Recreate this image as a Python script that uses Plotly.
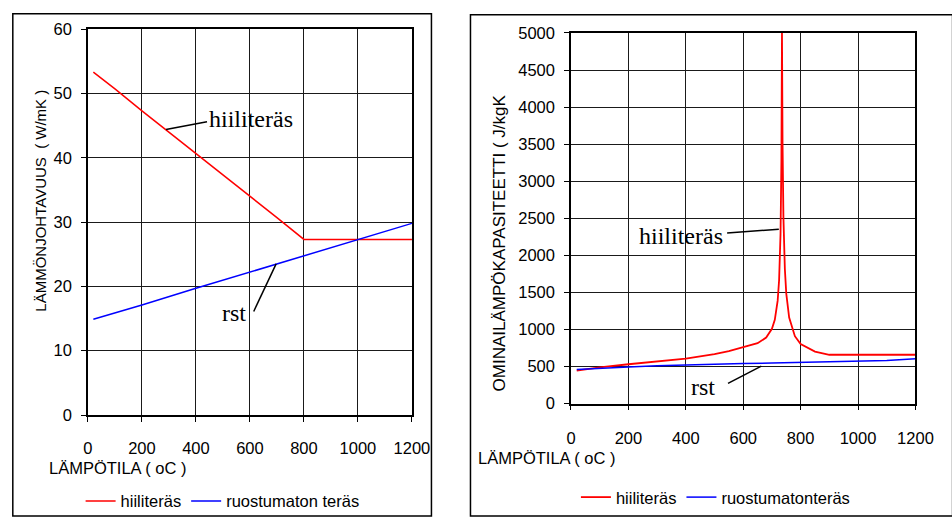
import plotly.graph_objects as go

# ---------------- data ----------------
# Left: thermal conductivity (W/mK)
k_temp_carbon = [20, 100, 200, 300, 400, 500, 600, 700, 800, 900, 1000, 1100, 1200]
k_carbon = [53.3, 50.7, 47.3, 44.0, 40.7, 37.4, 34.0, 30.7, 27.3, 27.3, 27.3, 27.3, 27.3]
k_temp_stainless = [20, 200, 400, 600, 800, 1000, 1200]
k_stainless = [14.9, 17.1, 19.7, 22.2, 24.8, 27.3, 29.8]

# Right: specific heat (J/kgK)
c_temp_carbon = [20, 100, 200, 300, 400, 500, 550, 600, 650, 680, 700, 710, 720, 725,
                 730, 733, 734, 735, 737, 738, 740, 745, 750, 760, 780, 800, 850, 900, 1200]
c_carbon = [445, 488, 530, 565, 606, 667, 708, 760, 814, 890, 1008, 1130, 1388, 1666,
            2291, 3266, 3916, 5000, 3515, 3091, 2525, 1818, 1483, 1159, 909, 803, 700, 658, 658]
c_temp_stainless = [20, 100, 200, 300, 400, 500, 600, 700, 800, 900, 1000, 1100, 1200]
c_stainless = [458, 476, 494, 509, 521, 531, 539, 546, 553, 561, 570, 582, 603]

x_ticks = [0, 200, 400, 600, 800, 1000, 1200]
series_names_left = ["hiiliteräs", "ruostumaton teräs"]
series_names_right = ["hiiliteräs", "ruostumatonteräs"]

RED = "#FF0000"
BLUE = "#0000FF"
SANS = "Liberation Sans, Arial, sans-serif"
SERIF = "Liberation Serif, Times New Roman, serif"
W, H = 952, 519


def px(x):
    return x / W


def py(y):
    return (H - y) / H


fig = go.Figure()
fig.add_trace(go.Scatter(x=k_temp_carbon, y=k_carbon, mode="lines", name=series_names_left[0],
                         line=dict(color=RED, width=1.5), xaxis="x", yaxis="y", legend="legend"))
fig.add_trace(go.Scatter(x=k_temp_stainless, y=k_stainless, mode="lines", name=series_names_left[1],
                         line=dict(color=BLUE, width=1.5), xaxis="x", yaxis="y", legend="legend"))
fig.add_trace(go.Scatter(x=c_temp_carbon, y=c_carbon, mode="lines", name=series_names_right[0],
                         line=dict(color=RED, width=1.8), xaxis="x2", yaxis="y2", legend="legend2"))
fig.add_trace(go.Scatter(x=c_temp_stainless, y=c_stainless, mode="lines", name=series_names_right[1],
                         line=dict(color=BLUE, width=1.5), xaxis="x2", yaxis="y2", legend="legend2"))

tickfont = dict(family=SANS, size=16.5, color="black")
common_x = dict(range=[0, 1200], tickvals=x_ticks, showgrid=True, gridcolor="#1a1a1a", gridwidth=1,
                showline=True, linecolor="black", linewidth=1.5, mirror=True, ticks="outside",
                ticklen=5, tickcolor="black", tickfont=tickfont, zeroline=False)
common_y = dict(showgrid=True, gridcolor="#1a1a1a", gridwidth=1, showline=True, linecolor="black",
                linewidth=1.5, mirror=True, ticks="outside", ticklen=5, tickcolor="black",
                tickfont=tickfont, zeroline=False, ticklabelstandoff=6)

fig.update_layout(
    width=W, height=H,
    margin=dict(l=0, r=0, t=0, b=0),
    paper_bgcolor="white", plot_bgcolor="white",
    xaxis=dict(domain=[px(85), px(417)], anchor="y", ticklabelstandoff=12, **common_x),
    yaxis=dict(domain=[py(424), py(21)], anchor="x", range=[0, 60], dtick=10, **common_y),
    xaxis2=dict(domain=[px(580), px(933)], anchor="y2", ticklabelstandoff=14, **common_x),
    yaxis2=dict(domain=[py(412), py(25)], anchor="x2", range=[0, 5000], dtick=500, **common_y),
    legend=dict(orientation="h", x=px(223), xanchor="center", y=py(514), yanchor="middle",
                font=dict(family=SANS, size=16.5, color="black"), bgcolor="rgba(0,0,0,0)",
                itemwidth=30, tracegroupgap=0),
    legend2=dict(orientation="h", x=px(728), xanchor="center", y=py(510), yanchor="middle",
                 font=dict(family=SANS, size=16.5, color="black"), bgcolor="rgba(0,0,0,0)",
                 itemwidth=30, tracegroupgap=0),
    showlegend=True,
)

# outer chart boxes
fig.add_shape(type="rect", xref="paper", yref="paper", x0=px(8), x1=px(437), y0=-0.02, y1=py(5),
              line=dict(color="black", width=1.5), layer="below")
fig.add_shape(type="rect", xref="paper", yref="paper", x0=px(477), x1=1.02, y0=-0.02, y1=py(6),
              line=dict(color="black", width=1.5), layer="below")

# axis titles
fig.add_annotation(xref="paper", yref="paper", x=px(43), y=py(479), xanchor="left", yanchor="middle",
                   text="LÄMPÖTILA ( oC )", showarrow=False, font=dict(family=SANS, size=16.5, color="black"))
fig.add_annotation(xref="paper", yref="paper", x=px(483), y=py(469), xanchor="left", yanchor="middle",
                   text="LÄMPÖTILA ( oC )", showarrow=False, font=dict(family=SANS, size=16.5, color="black"))
fig.add_annotation(xref="paper", yref="paper", x=px(36), y=py(200), xanchor="center", yanchor="middle",
                   text="LÄMMÖNJOHTAVUUS\u00a0\u00a0( W/mK )", textangle=-90, showarrow=False,
                   font=dict(family=SANS, size=15, color="black"))
fig.add_annotation(xref="paper", yref="paper", x=px(507), y=py(244), xanchor="center", yanchor="middle",
                   text="OMINAILÄMPÖKAPASITEETTI ( J/kgK", textangle=-90, showarrow=False,
                   font=dict(family=SANS, size=17, color="black"))

# callout labels
lbl = dict(family=SERIF, size=24, color="black")
fig.add_annotation(xref="x", yref="y", x=441, y=46.0, xanchor="left", yanchor="middle",
                   text="hiiliteräs", showarrow=False, font=lbl)
fig.add_shape(type="line", xref="x", yref="y", x0=289, y0=44.4, x1=441, y1=45.6,
              line=dict(color="black", width=1.5))
fig.add_annotation(xref="x", yref="y", x=542, y=15.9, xanchor="center", yanchor="middle",
                   text="rst", showarrow=False, font=lbl)
fig.add_shape(type="line", xref="x", yref="y", x0=614, y0=16.1, x1=697, y1=23.5,
              line=dict(color="black", width=1.5))

fig.add_annotation(xref="x2", yref="y2", x=231, y=2261, xanchor="left", yanchor="middle",
                   text="hiiliteräs", showarrow=False, font=lbl)
fig.add_shape(type="line", xref="x2", yref="y2", x0=544, y0=2300, x1=724, y1=2351,
              line=dict(color="black", width=1.5))
fig.add_annotation(xref="x2", yref="y2", x=459, y=220, xanchor="center", yanchor="middle",
                   text="rst", showarrow=False, font=lbl)
fig.add_shape(type="line", xref="x2", yref="y2", x0=547, y0=271, x1=663, y1=504,
              line=dict(color="black", width=1.5))

fig.write_html("out.html")
